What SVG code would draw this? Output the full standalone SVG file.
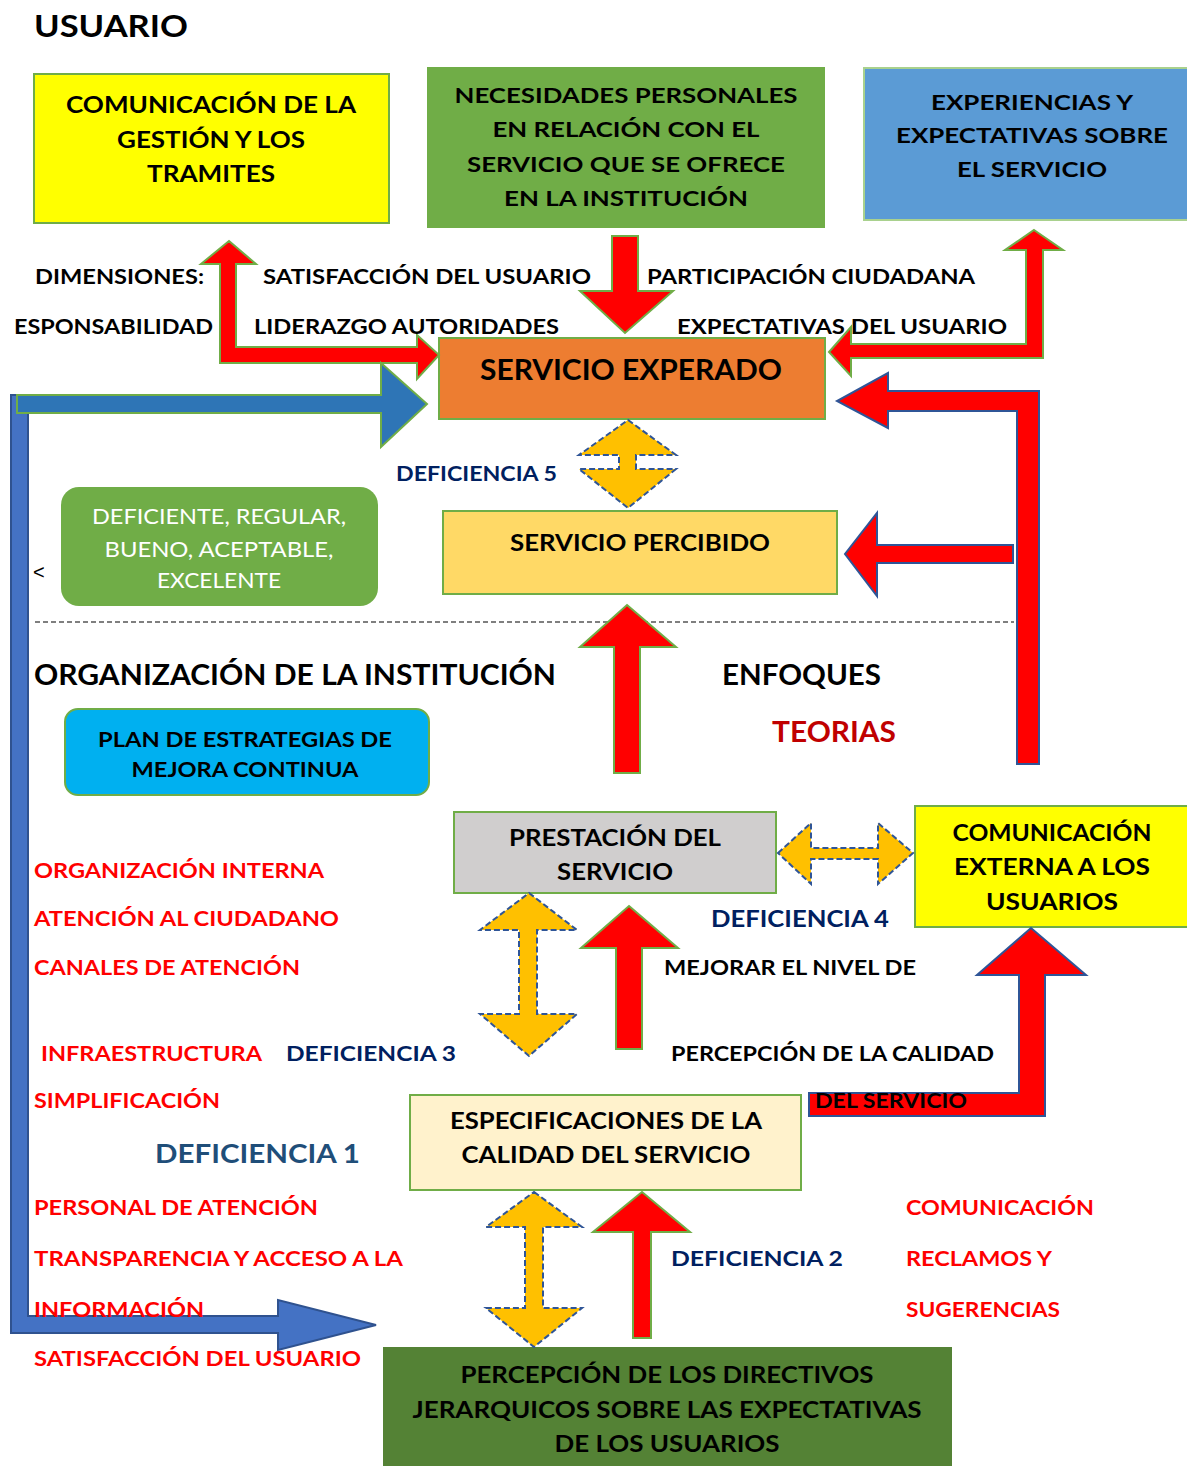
<svg xmlns="http://www.w3.org/2000/svg" width="1187" height="1466" viewBox="0 0 1187 1466">
<style>
text{font-family:Lato,"Open Sans","Liberation Sans",sans-serif;font-weight:bold;}
.c{text-anchor:middle;}
.b{fill:#000;}
.r{fill:#ff0000;}
.d{fill:#002060;}
.w{fill:#fff;font-weight:normal;}
.box{stroke:#70ad47;stroke-width:2;}
.ra{fill:#ff0000;stroke:#70ad47;stroke-width:2;stroke-linejoin:miter;}
.rb{fill:#ff0000;stroke:#2f5597;stroke-width:2;stroke-linejoin:miter;}
.ya{fill:#ffc000;stroke:#2f5597;stroke-width:2;stroke-dasharray:6 3;}
</style>
<rect width="1187" height="1466" fill="#fff"/>

<g id="nodes">
<g id="n-comunicacion-gestion"><rect class="box" x="34" y="74" width="355" height="149" fill="#ffff00"/>
<text class="c b" font-size="22" x="211" y="113" textLength="290" lengthAdjust="spacingAndGlyphs">COMUNICACIÓN DE LA</text>
<text class="c b" font-size="22" x="211" y="148" textLength="188" lengthAdjust="spacingAndGlyphs">GESTIÓN Y LOS</text>
<text class="c b" font-size="22" x="211" y="182" textLength="128" lengthAdjust="spacingAndGlyphs">TRAMITES</text></g>

<g id="n-necesidades"><rect x="427" y="67" width="398" height="161" fill="#70ad47"/>
<text class="c b" font-size="21" x="626" y="103" textLength="343" lengthAdjust="spacingAndGlyphs">NECESIDADES PERSONALES</text>
<text class="c b" font-size="21" x="626" y="137" textLength="267" lengthAdjust="spacingAndGlyphs">EN RELACIÓN CON EL</text>
<text class="c b" font-size="21" x="626" y="172" textLength="318" lengthAdjust="spacingAndGlyphs">SERVICIO QUE SE OFRECE</text>
<text class="c b" font-size="21" x="626" y="206" textLength="244" lengthAdjust="spacingAndGlyphs">EN LA INSTITUCIÓN</text></g>

<g id="n-experiencias"><rect x="864" y="68" width="330" height="152" fill="#5b9bd5" stroke="#a9d18e" stroke-width="2"/>
<text class="c b" font-size="21" x="1032" y="110" textLength="202" lengthAdjust="spacingAndGlyphs">EXPERIENCIAS Y</text>
<text class="c b" font-size="21" x="1032" y="143" textLength="272" lengthAdjust="spacingAndGlyphs">EXPECTATIVAS SOBRE</text>
<text class="c b" font-size="21" x="1032" y="177" textLength="150" lengthAdjust="spacingAndGlyphs">EL SERVICIO</text></g>

<g id="n-servicio-experado"><rect class="box" x="439" y="338" width="386" height="81" fill="#ed7d31"/>
<text class="c b" font-size="29" x="631" y="380" textLength="302" lengthAdjust="spacingAndGlyphs">SERVICIO EXPERADO</text></g>

<g id="n-escala"><rect x="61" y="487" width="317" height="119" rx="18" fill="#70ad47"/>
<text class="c w" font-size="21" x="219" y="524" textLength="254" lengthAdjust="spacingAndGlyphs">DEFICIENTE, REGULAR,</text>
<text class="c w" font-size="21" x="219" y="557" textLength="229" lengthAdjust="spacingAndGlyphs">BUENO, ACEPTABLE,</text>
<text class="c w" font-size="21" x="219" y="588" textLength="124" lengthAdjust="spacingAndGlyphs">EXCELENTE</text></g>

<g id="n-servicio-percibido"><rect class="box" x="443" y="511" width="394" height="83" fill="#ffd966"/>
<text class="c b" font-size="22" x="640" y="551" textLength="260" lengthAdjust="spacingAndGlyphs">SERVICIO PERCIBIDO</text></g>

<g id="n-plan"><rect class="box" x="65" y="709" width="364" height="86" rx="13" fill="#00b0f0"/>
<text class="c b" font-size="21" x="245" y="747" textLength="294" lengthAdjust="spacingAndGlyphs">PLAN DE ESTRATEGIAS DE</text>
<text class="c b" font-size="21" x="245" y="777" textLength="227" lengthAdjust="spacingAndGlyphs">MEJORA CONTINUA</text></g>

<g id="n-prestacion"><rect class="box" x="454" y="812" width="322" height="81" fill="#d0cece"/>
<text class="c b" font-size="22" x="615" y="846" textLength="212" lengthAdjust="spacingAndGlyphs">PRESTACIÓN DEL</text>
<text class="c b" font-size="22" x="615" y="880" textLength="116" lengthAdjust="spacingAndGlyphs">SERVICIO</text></g>

<g id="n-comunicacion-externa"><rect class="box" x="915" y="806" width="280" height="121" fill="#ffff00"/>
<text class="c b" font-size="22" x="1052" y="841" textLength="199" lengthAdjust="spacingAndGlyphs">COMUNICACIÓN</text>
<text class="c b" font-size="22" x="1052" y="875" textLength="196" lengthAdjust="spacingAndGlyphs">EXTERNA A LOS</text>
<text class="c b" font-size="22" x="1052" y="910" textLength="132" lengthAdjust="spacingAndGlyphs">USUARIOS</text></g>

<g id="n-especificaciones"><rect class="box" x="410" y="1095" width="391" height="95" fill="#fff2cc"/>
<text class="c b" font-size="22" x="606" y="1129" textLength="312" lengthAdjust="spacingAndGlyphs">ESPECIFICACIONES DE LA</text>
<text class="c b" font-size="22" x="606" y="1163" textLength="289" lengthAdjust="spacingAndGlyphs">CALIDAD DEL SERVICIO</text></g>

<g id="n-percepcion-directivos"><rect x="383" y="1347" width="569" height="125" fill="#548235"/>
<text class="c b" font-size="22" x="667" y="1383" textLength="413" lengthAdjust="spacingAndGlyphs">PERCEPCIÓN DE LOS DIRECTIVOS</text>
<text class="c b" font-size="22" x="667" y="1418" textLength="509" lengthAdjust="spacingAndGlyphs">JERARQUICOS SOBRE LAS EXPECTATIVAS</text>
<text class="c b" font-size="22" x="667" y="1452" textLength="225" lengthAdjust="spacingAndGlyphs">DE LOS USUARIOS</text></g>
</g>

<g id="connectors">
<polygon class="ra" points="229,241 256,264 236,264 236,347 417,347 417,335 439,355 417,379 417,363 220,363 220,264 201,264"/>
<polygon class="ra" points="612,236 638,236 638,291 673,291 625,333 580,291 612,291"/>
<polygon class="ra" points="1034,230 1063,250 1043,250 1043,358 851,358 851,376 829,352 851,327 851,344 1026,344 1026,250 1005,250"/>
<polygon fill="#4472c4" stroke="#2f528f" stroke-width="2" points="11,395 28,395 28,1316 278,1316 278,1300 376,1325 278,1350 278,1333 11,1333"/>
<polygon fill="#2e75b6" stroke="#70ad47" stroke-width="2" points="17,395 381,395 381,363 427,404 381,447 381,413 17,413"/>
<polygon class="ya" points="628,420 676,455 636,455 636,469 676,469 628,508 579,469 619,469 619,455 579,455"/>
<polygon class="rb" points="1017,764 1039,764 1039,391 888,391 888,373 837,401 888,428 888,411 1017,411"/>
<polygon class="rb" points="1013,545 1013,563 877,563 877,596 845,554 877,513 877,545"/>
<line x1="35" y1="622" x2="1014" y2="622" stroke="#000" stroke-width="1.2" stroke-dasharray="5 3"/>
<polygon class="ra" points="627,605 676,647 640,647 640,773 614,773 614,647 580,647"/>
<polygon class="ya" points="778,853 811,823 811,848 878,848 878,823 913,853 878,884 878,859 811,859 811,884"/>
<polygon class="ya" points="529,893 577,930 537,930 537,1014 577,1014 529,1056 480,1014 519,1014 519,930 480,930"/>
<polygon class="ra" points="629,906 678,948 642,948 642,1049 616,1049 616,948 581,948"/>
<polygon class="rb" points="809,1093 1019,1093 1019,975 977,975 1031,928 1086,975 1045,975 1045,1116 809,1116"/>
<polygon class="ya" points="534,1192 582,1227 543,1227 543,1308 582,1308 534,1347 486,1308 525,1308 525,1227 486,1227"/>
<polygon class="ra" points="642,1192 690,1232 651,1232 651,1338 633,1338 633,1232 593,1232"/>
</g>

<g id="labels">
<text class="b" font-size="31" x="34" y="37" textLength="154" lengthAdjust="spacingAndGlyphs">USUARIO</text>
<text class="b" font-size="21" x="35" y="284" textLength="169" lengthAdjust="spacingAndGlyphs">DIMENSIONES:</text>
<text class="b" font-size="21" x="263" y="284" textLength="328" lengthAdjust="spacingAndGlyphs">SATISFACCIÓN DEL USUARIO</text>
<text class="b" font-size="21" x="647" y="284" textLength="328" lengthAdjust="spacingAndGlyphs">PARTICIPACIÓN CIUDADANA</text>
<text class="b" font-size="21" x="14" y="334" textLength="199" lengthAdjust="spacingAndGlyphs">ESPONSABILIDAD</text>
<text class="b" font-size="21" x="254" y="334" textLength="305" lengthAdjust="spacingAndGlyphs">LIDERAZGO AUTORIDADES</text>
<text class="b" font-size="21" x="677" y="334" textLength="330" lengthAdjust="spacingAndGlyphs">EXPECTATIVAS DEL USUARIO</text>
<text class="d" font-size="21" x="396" y="481" textLength="161" lengthAdjust="spacingAndGlyphs">DEFICIENCIA 5</text>
<text class="b" font-size="20" style="font-weight:normal;font-family:'Liberation Sans',sans-serif" x="33" y="579">&lt;</text>
<text class="b" font-size="28" x="34" y="685" textLength="522" lengthAdjust="spacingAndGlyphs">ORGANIZACIÓN DE LA INSTITUCIÓN</text>
<text class="b" font-size="28" x="722" y="685" textLength="159" lengthAdjust="spacingAndGlyphs">ENFOQUES</text>
<text font-size="28" fill="#c00000" x="772" y="742" textLength="124" lengthAdjust="spacingAndGlyphs">TEORIAS</text>
<text class="r" font-size="21" x="34" y="878" textLength="290" lengthAdjust="spacingAndGlyphs">ORGANIZACIÓN INTERNA</text>
<text class="r" font-size="21" x="34" y="926" textLength="305" lengthAdjust="spacingAndGlyphs">ATENCIÓN AL CIUDADANO</text>
<text class="r" font-size="21" x="34" y="975" textLength="266" lengthAdjust="spacingAndGlyphs">CANALES DE ATENCIÓN</text>
<text class="d" font-size="22" x="711" y="927" textLength="178" lengthAdjust="spacingAndGlyphs">DEFICIENCIA 4</text>
<text class="b" font-size="21" x="664" y="975" textLength="252" lengthAdjust="spacingAndGlyphs">MEJORAR EL NIVEL DE</text>
<text class="r" font-size="21" x="41" y="1061" textLength="221" lengthAdjust="spacingAndGlyphs">INFRAESTRUCTURA</text>
<text class="d" font-size="21" x="286" y="1061" textLength="170" lengthAdjust="spacingAndGlyphs">DEFICIENCIA 3</text>
<text class="b" font-size="21" x="671" y="1061" textLength="323" lengthAdjust="spacingAndGlyphs">PERCEPCIÓN DE LA CALIDAD</text>
<text class="r" font-size="21" x="34" y="1108" textLength="186" lengthAdjust="spacingAndGlyphs">SIMPLIFICACIÓN</text>
<text class="b" font-size="21" x="815" y="1108" textLength="152" lengthAdjust="spacingAndGlyphs">DEL SERVICIO</text>
<text font-size="27" fill="#1f4e79" x="155" y="1163" textLength="205" lengthAdjust="spacingAndGlyphs">DEFICIENCIA 1</text>
<text class="r" font-size="21" x="34" y="1215" textLength="284" lengthAdjust="spacingAndGlyphs">PERSONAL DE ATENCIÓN</text>
<text class="r" font-size="21" x="906" y="1215" textLength="188" lengthAdjust="spacingAndGlyphs">COMUNICACIÓN</text>
<text class="r" font-size="21" x="34" y="1266" textLength="369" lengthAdjust="spacingAndGlyphs">TRANSPARENCIA Y ACCESO A LA</text>
<text class="d" font-size="21" x="671" y="1266" textLength="172" lengthAdjust="spacingAndGlyphs">DEFICIENCIA 2</text>
<text class="r" font-size="21" x="906" y="1266" textLength="146" lengthAdjust="spacingAndGlyphs">RECLAMOS Y</text>
<text class="r" font-size="21" x="34" y="1317" textLength="170" lengthAdjust="spacingAndGlyphs">INFORMACIÓN</text>
<text class="r" font-size="21" x="906" y="1317" textLength="154" lengthAdjust="spacingAndGlyphs">SUGERENCIAS</text>
<text class="r" font-size="21" x="34" y="1366" textLength="327" lengthAdjust="spacingAndGlyphs">SATISFACCIÓN DEL USUARIO</text>
</g>
</svg>
